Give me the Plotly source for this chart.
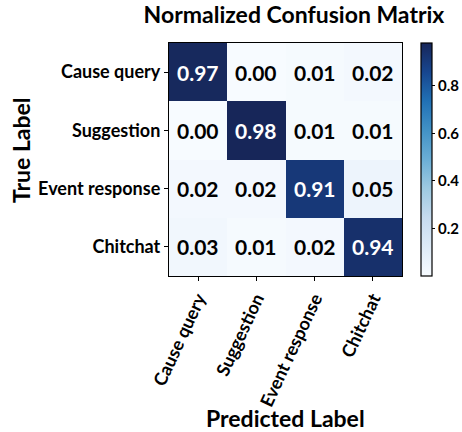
import plotly.graph_objects as go

labels = ["Cause query", "Suggestion", "Event response", "Chitchat"]
matrix = [
    [0.97, 0.00, 0.01, 0.02],
    [0.00, 0.98, 0.01, 0.01],
    [0.02, 0.02, 0.91, 0.05],
    [0.03, 0.01, 0.02, 0.94],
]
cbar_ticks = [0.2, 0.4, 0.6, 0.8]

FONT = "Lato"
W, H = 462, 432
colorscale = [
    [0.0, "#f7fbff"], [0.125, "#deebf7"], [0.25, "#c6dbef"], [0.375, "#9ecae1"],
    [0.5, "#6baed6"], [0.625, "#4292c6"], [0.75, "#2171b5"], [0.875, "#17468f"],
    [1.0, "#172659"],
]

fig = go.Figure(go.Heatmap(
    z=matrix, x=labels, y=labels, colorscale=colorscale, zmin=0, zmax=0.98,
    xgap=0, ygap=0,
    colorbar=dict(
        x=1.08, xanchor="left", xpad=0, y=0.5, yanchor="middle", len=1.0, ypad=0,
        thickness=11, outlinecolor="black", outlinewidth=1.2,
        tickvals=cbar_ticks, ticktext=[f"{v:.1f}" for v in cbar_ticks],
        ticks="outside", ticklen=3, tickcolor="black",
        tickfont=dict(family=FONT, size=15, color="black", weight="bold"),
    ),
    hoverinfo="skip",
))

annotations = []
for i, row in enumerate(matrix):
    for j, v in enumerate(row):
        annotations.append(dict(
            x=labels[j], y=labels[i], text=f"{v:.2f}", showarrow=False,
            font=dict(family=FONT, size=21, weight="bold",
                      color="white" if v > 0.5 else "black"),
        ))

# axis titles as paper annotations
annotations.append(dict(
    text="Predicted Label", xref="paper", yref="paper",
    x=(285 - 169) / 233, y=-(418 - 276) / 233, xanchor="center", yanchor="middle",
    showarrow=False, font=dict(family=FONT, size=23, color="black", weight="bold"),
))
annotations.append(dict(
    text="True Label", xref="paper", yref="paper", textangle=-90,
    x=-(169 - 21) / 233, y=(276 - 150) / 233, xanchor="center", yanchor="middle",
    showarrow=False, font=dict(family=FONT, size=23, color="black", weight="bold"),
))

fig.update_layout(
    width=W, height=H,
    margin=dict(l=169, r=60, t=43, b=156, autoexpand=False),
    paper_bgcolor="white", plot_bgcolor="white",
    title=dict(text="Normalized Confusion Matrix", x=294 / W, xanchor="center",
               y=1 - 15 / H, yanchor="middle",
               font=dict(family=FONT, size=23, color="black", weight="bold")),
    annotations=annotations,
    xaxis=dict(
        tickangle=-65, ticks="outside", ticklen=4, tickcolor="black",
        showline=True, mirror=True, linecolor="black", linewidth=1.2,
        tickfont=dict(family=FONT, size=18, color="black", weight="bold"),
        automargin=False,
    ),
    yaxis=dict(
        autorange="reversed", ticks="outside", ticklen=4, tickcolor="black",
        showline=True, mirror=True, linecolor="black", linewidth=1.2,
        tickfont=dict(family=FONT, size=18, color="black", weight="bold"),
        automargin=False,
    ),
)

fig.write_html(
    "out.html",
    config={"displayModeBar": False},
    post_script="document.body.style.margin='0';document.body.style.overflow='hidden';",
)
